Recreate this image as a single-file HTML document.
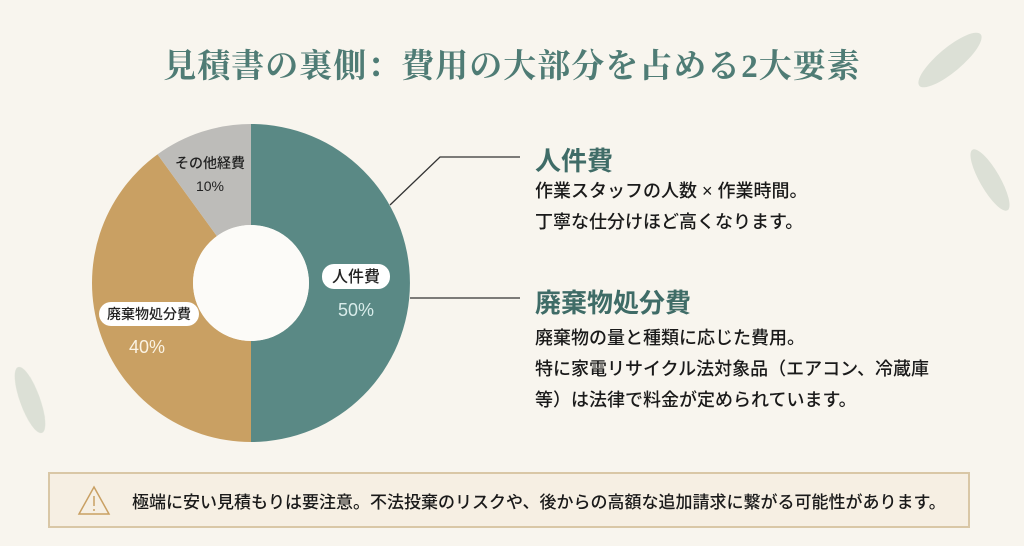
<!DOCTYPE html>
<html><head><meta charset="utf-8"><style>
body{margin:0;width:1024px;height:546px;overflow:hidden;background:#f8f5ee;font-family:"Liberation Sans","Noto Sans CJK JP",sans-serif;position:relative}
.t{position:absolute;left:0;width:1024px;text-align:center;top:40px;font-family:"Liberation Serif","Noto Serif CJK SC",serif;font-weight:bold;font-size:33px;color:#4f7c75;letter-spacing:1px}
.h{position:absolute;left:535px;font-size:26px;color:#3f6c67;font-weight:bold}
.p{position:absolute;left:535px;font-size:18px;line-height:31px;color:#1a1a1a;font-weight:500}
.box{position:absolute;left:48px;top:472px;width:922px;height:56px;border:2px solid #d9c7a6;background:#f6efe3;box-sizing:border-box}
.box span{position:absolute;left:82px;top:14px;font-size:17px;color:#1a1a1a;font-weight:500}
.box svg{position:absolute;left:26px;top:10px}
</style></head><body>
<svg width="1024" height="546" style="position:absolute;left:0;top:0">
<g opacity="0.35" fill="#a8bba9"><ellipse cx="950" cy="60" rx="40" ry="12" transform="rotate(-40 950 60)"/><ellipse cx="990" cy="180" rx="35" ry="10" transform="rotate(60 990 180)"/><ellipse cx="30" cy="400" rx="35" ry="10" transform="rotate(70 30 400)"/></g>
<path d="M251 124 A159 159 0 0 1 251 442 L251 341 A58 58 0 0 0 251 225 Z" fill="#5a8985"/>
<path d="M251 442 A159 159 0 0 1 157.5 154.4 L216.9 236.1 A58 58 0 0 0 251 341 Z" fill="#c9a063"/>
<path d="M157.5 154.4 A159 159 0 0 1 251 124 L251 225 A58 58 0 0 0 216.9 236.1 Z" fill="#bdbcb9"/>
<circle cx="251" cy="283" r="58" fill="#fcfbf8"/>
<polyline points="390,205 440,157 520,157" fill="none" stroke="#333" stroke-width="1.3"/>
<line x1="410" y1="298" x2="520" y2="298" stroke="#333" stroke-width="1.3"/>
<rect x="322" y="264" width="68" height="25" rx="12" fill="#fff"/>
<text x="356" y="282" text-anchor="middle" font-size="16" font-weight="500" fill="#222">人件費</text>
<text x="356" y="316" text-anchor="middle" font-size="18" fill="#d8ecea">50%</text>
<rect x="99" y="302" width="100" height="24" rx="12" fill="#fff"/>
<text x="149" y="319" text-anchor="middle" font-size="14" font-weight="500" fill="#222">廃棄物処分費</text>
<text x="147" y="353" text-anchor="middle" font-size="18" fill="#fbf3e3">40%</text>
<text x="210" y="168" text-anchor="middle" font-size="14" font-weight="500" fill="#222">その他経費</text>
<text x="210" y="191" text-anchor="middle" font-size="14" fill="#222">10%</text>
</svg>
<div class="t">見積書の裏側：費用の大部分を占める2大要素</div>
<div class="h" style="top:141px">人件費</div>
<div class="p" style="top:176px">作業スタッフの人数 × 作業時間。<br>丁寧な仕分けほど高くなります。</div>
<div class="h" style="top:283px">廃棄物処分費</div>
<div class="p" style="top:323px">廃棄物の量と種類に応じた費用。<br>特に家電リサイクル法対象品（エアコン、冷蔵庫<br>等）は法律で料金が定められています。</div>
<div class="box"><svg width="36" height="34"><path d="M18 3 L33 30 L3 30 Z" fill="none" stroke="#c9a063" stroke-width="1.5"/><line x1="18" y1="12" x2="18" y2="22" stroke="#c9a063" stroke-width="1.5"/><circle cx="18" cy="26" r="1" fill="#c9a063"/></svg><span>極端に安い見積もりは要注意。不法投棄のリスクや、後からの高額な追加請求に繋がる可能性があります。</span></div>
</body></html>
